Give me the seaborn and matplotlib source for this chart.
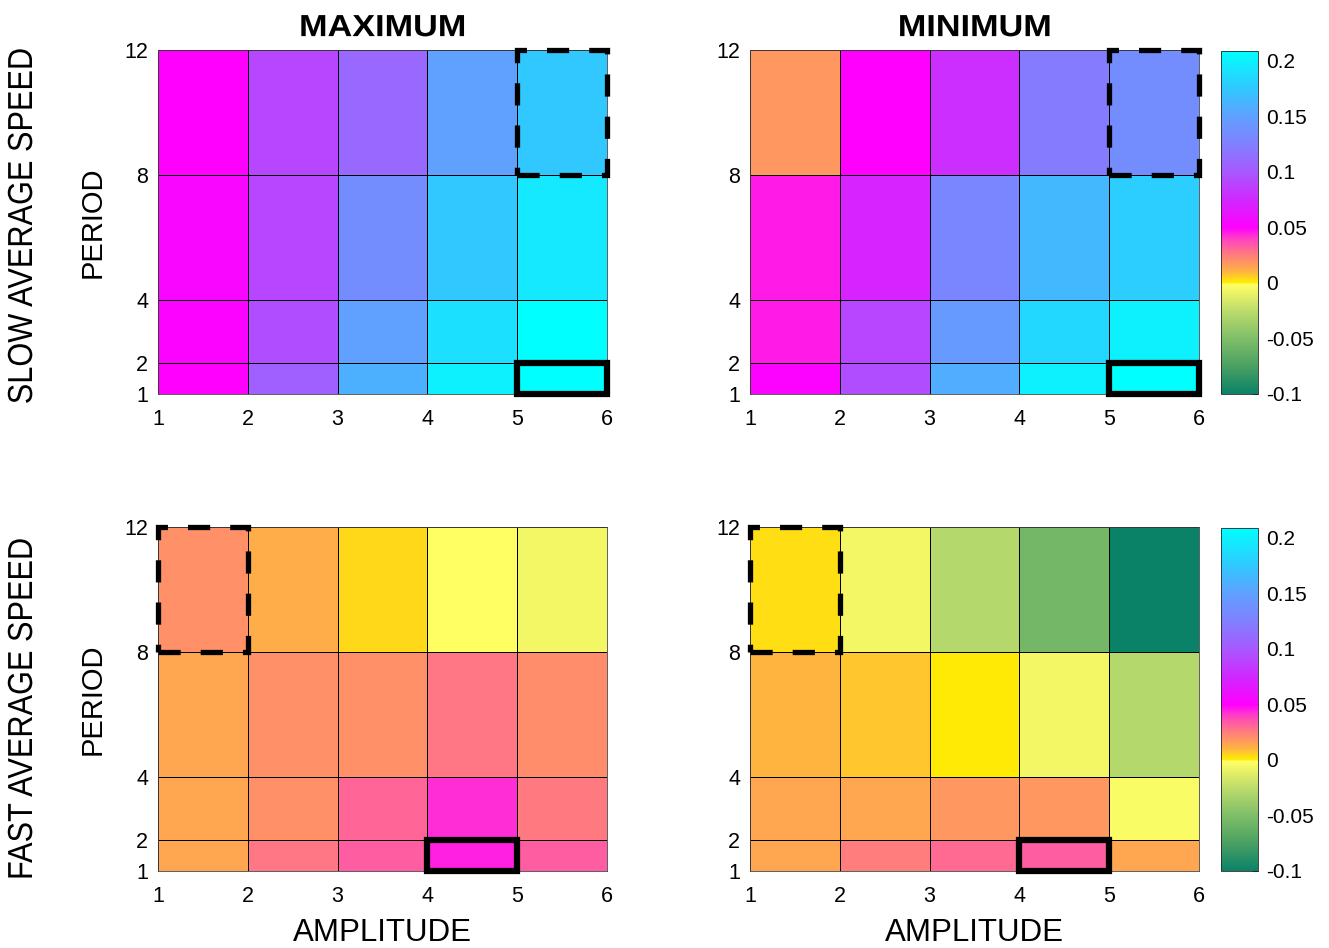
import matplotlib
matplotlib.use("Agg")
import numpy as np
import matplotlib.pyplot as plt
from matplotlib.colors import LinearSegmentedColormap, Normalize
from matplotlib.patches import Rectangle
from matplotlib.patheffects import AbstractPathEffect
from matplotlib.transforms import Affine2D
import seaborn as sns

# ---- data -------------------------------------------------------------
amplitude_edges = [1, 2, 3, 4, 5, 6]
period_edges = [1, 2, 4, 8, 12]
amplitude_ticks = [1, 2, 3, 4, 5, 6]
period_ticks = [1, 2, 4, 8, 12]
cbar_ticks = [-0.1, -0.05, 0, 0.05, 0.1, 0.15, 0.2]
cbar_labels = ["-0.1", "-0.05", "0", "0.05", "0.1", "0.15", "0.2"]
column_titles = ["MAXIMUM", "MINIMUM"]
row_titles = ["SLOW AVERAGE SPEED", "FAST AVERAGE SPEED"]

# rows: period bins 1-2, 2-4, 4-8, 8-12 ; columns: amplitude bins 1-2 ... 5-6
slow_max = [
    [0.050, 0.105, 0.160, 0.200, 0.210],
    [0.052, 0.095, 0.150, 0.190, 0.210],
    [0.054, 0.090, 0.135, 0.175, 0.195],
    [0.050, 0.090, 0.110, 0.150, 0.175],
]
slow_min = [
    [0.052, 0.095, 0.158, 0.200, 0.210],
    [0.046, 0.090, 0.145, 0.185, 0.200],
    [0.046, 0.072, 0.130, 0.165, 0.178],
    [0.018, 0.050, 0.078, 0.122, 0.135],
]
fast_max = [
    [0.014, 0.027, 0.033, 0.045, 0.033],
    [0.014, 0.020, 0.031, 0.043, 0.026],
    [0.014, 0.020, 0.020, 0.027, 0.021],
    [0.020, 0.012, 0.004, -0.001, -0.006],
]
fast_min = [
    [0.014, 0.025, 0.030, 0.033, 0.014],
    [0.014, 0.014, 0.018, 0.018, -0.003],
    [0.010, 0.007, 0.001, -0.006, -0.028],
    [0.003, -0.006, -0.028, -0.055, -0.100],
]

# highlighted cells: (amplitude bin index, period bin index)
slow_dashed_cell = (4, 3)
slow_solid_cell = (4, 0)
fast_dashed_cell = (0, 3)
fast_solid_cell = (3, 0)

# colour scale anchors
vmin, vmax = -0.1, 0.209
anchor_values = [-0.1, -0.075, -0.05, -0.025, -0.008, -0.001, 0.0, 0.01,
                 0.02, 0.03, 0.04, 0.05, 0.075, 0.1, 0.125, 0.15, 0.175,
                 0.209]
anchor_colors = ["#0a8268", "#4aa062", "#7fbe68", "#bcdc6c", "#eef466",
                 "#ffff66", "#fff000", "#ffb440", "#ff9068", "#ff6a92",
                 "#ff40c4", "#ff00ff", "#d028ff", "#a858ff", "#8080ff",
                 "#60a0ff", "#30c8ff", "#00ffff"]


class Stretch(AbstractPathEffect):
    """Scale a text path along its own baseline, about its centre."""

    def __init__(self, factor):
        super().__init__()
        self.factor = factor

    def draw_path(self, renderer, gc, tpath, affine, rgbFace=None):
        ext = tpath.get_extents()
        cx = 0.5 * (ext.x0 + ext.x1)
        t = (Affine2D().translate(-cx, 0).scale(self.factor, 1)
             .translate(cx, 0) + affine)
        renderer.draw_path(gc, tpath, t, rgbFace)


# ---- styling ----------------------------------------------------------
sns.set_theme(style="white")
plt.rcParams["font.family"] = ["Liberation Sans", "DejaVu Sans"]
plt.rcParams["axes.unicode_minus"] = False
plt.rcParams["text.color"] = "black"
plt.rcParams["axes.labelcolor"] = "black"

cmap = LinearSegmentedColormap.from_list(
    "speed", list(zip([(v - vmin) / (vmax - vmin) for v in anchor_values],
                      anchor_colors)), N=2048)
norm = Normalize(vmin=vmin, vmax=vmax)

W, H = 1329, 948
fig = plt.figure(figsize=(W / 100, H / 100), dpi=100)


def box(left, top, right, bottom):
    return [left / W, 1 - bottom / H, (right - left) / W, (bottom - top) / H]


axes_boxes = [
    [box(158, 50, 607, 394), box(750, 50, 1199, 394)],
    [box(158, 527, 607, 871), box(750, 527, 1199, 871)],
]
cbar_boxes = [box(1221, 51, 1258, 394), box(1221, 528, 1258, 871)]
row_centres = [226, 709]

panels = [[slow_max, slow_min], [fast_max, fast_min]]
dashed_cells = [slow_dashed_cell, fast_dashed_cell]
solid_cells = [slow_solid_cell, fast_solid_cell]


def outline(ax, cell, **kw):
    i, j = cell
    x0, x1 = amplitude_edges[i], amplitude_edges[i + 1]
    y0, y1 = period_edges[j], period_edges[j + 1]
    ax.add_patch(Rectangle((x0, y0), x1 - x0, y1 - y0, fill=False,
                           edgecolor="black", clip_on=False, zorder=5, **kw))


for r in range(2):
    for c in range(2):
        ax = fig.add_axes(axes_boxes[r][c])
        mesh = ax.pcolormesh(amplitude_edges, period_edges,
                             np.array(panels[r][c]), cmap=cmap, norm=norm,
                             edgecolors="black", linewidth=0.7)
        ax.set_xlim(amplitude_edges[0], amplitude_edges[-1])
        ax.set_ylim(period_edges[0], period_edges[-1])
        ax.set_xticks(amplitude_ticks)
        ax.set_yticks(period_ticks)
        ax.tick_params(axis="both", labelsize=15.5, length=0,
                       colors="black")
        ax.tick_params(axis="x", pad=11)
        ax.tick_params(axis="y", pad=7)
        for s in ax.spines.values():
            s.set_linewidth(0.6)
            s.set_color("#444444")
        outline(ax, dashed_cells[r], linewidth=3.8,
                linestyle=(0, (4.2, 3.8)))
        outline(ax, solid_cells[r], linewidth=4.5)
        if r == 0:
            t = ax.set_title(column_titles[c], fontsize=22,
                             fontweight="bold", pad=10)
            t.set_path_effects([Stretch(1.12)])
        else:
            ax.set_xlabel("AMPLITUDE", fontsize=22.5, labelpad=8)
        if c == 0:
            ax.set_ylabel("PERIOD", fontsize=21, labelpad=13)

    cax = fig.add_axes(cbar_boxes[r])
    cb = fig.colorbar(mesh, cax=cax, ticks=cbar_ticks)
    cb.ax.set_yticklabels(cbar_labels)
    cb.ax.tick_params(labelsize=15, length=4, width=0.6, direction="in",
                      colors="black", pad=6)
    cb.outline.set_linewidth(0.6)

    rt = fig.text(22.5 / W, 1 - row_centres[r] / H, row_titles[r],
                  rotation=90, ha="center", va="center", fontsize=25)
    rt.set_path_effects([Stretch(0.885)])

fig.savefig("out.png", dpi=100, facecolor="white")
